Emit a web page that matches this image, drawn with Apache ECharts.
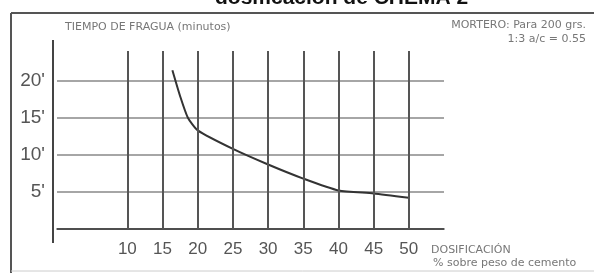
<!DOCTYPE html>
<html>
<head>
<meta charset="utf-8">
<script src="https://cdn.jsdelivr.net/npm/echarts@6/dist/echarts.min.js"></script>
<style>
  html, body { margin: 0; padding: 0; background: #fff; }
  #chart { width: 594px; height: 273px; }
</style>
</head>
<body>
<div id="chart"></div>
<script>
// dosificación (% sobre peso de cemento) vs tiempo de fragua (minutos)
const dosis = [16.4, 17.5, 18.6, 20, 25, 30, 35, 40, 45, 50];
const fragua = [21.4, 17.9, 15.0, 13.3, 10.8, 8.7, 6.8, 5.2, 4.8, 4.2];

const xTicks = [10, 15, 20, 25, 30, 35, 40, 45, 50];
const yTicks = [5, 10, 15, 20];
const yTickLabels = ["5'", "10'", "15'", "20'"];

const FONT = 'Liberation Sans';
const NOTE = '11px DejaVu Sans';

const chart = echarts.init(document.getElementById('chart'));

chart.setOption({
    animation: false,
    backgroundColor: '#fff',
    grid: { left: 57, right: 150, top: 51, bottom: 44 },
    xAxis: {
        type: 'value',
        min: 0,
        max: 55,
        interval: 5,
        axisLine: { show: true, lineStyle: { color: '#333', width: 1.5 } },
        axisTick: { show: false },
        splitLine: { show: false },
        axisLabel: {
            margin: 12,
            color: '#555',
            fontFamily: FONT,
            fontSize: 17,
            formatter: function (v) { return xTicks.indexOf(v) >= 0 ? String(v) : ''; }
        }
    },
    yAxis: {
        type: 'value',
        min: 0,
        max: 24,
        interval: 5,
        axisLine: { show: false },
        axisTick: { show: false },
        splitLine: { show: true, showMaxLine: false, lineStyle: { color: '#888', width: 1.5 } },
        axisLabel: {
            margin: 12,
            color: '#555',
            fontFamily: FONT,
            fontSize: 19,
            formatter: function (v) {
                const i = yTicks.indexOf(v);
                return i >= 0 ? yTickLabels[i] : '';
            }
        }
    },
    series: [{
        type: 'line',
        data: dosis.map((d, i) => [d, fragua[i]]),
        smooth: 0.2,
        symbol: 'none',
        lineStyle: { color: '#333', width: 2 },
        markLine: {
            silent: true,
            symbol: 'none',
            label: { show: false },
            lineStyle: { color: '#555', width: 2, type: 'solid' },
            data: xTicks.map(v => ({ xAxis: v }))
        }
    }],
    graphic: [
        // marco
        { type: 'line', shape: { x1: 11, y1: 13, x2: 594, y2: 13 }, style: { stroke: '#555', lineWidth: 2 } },
        { type: 'line', shape: { x1: 11, y1: 13, x2: 11, y2: 273 }, style: { stroke: '#555', lineWidth: 2 } },
        { type: 'line', shape: { x1: 11, y1: 271, x2: 594, y2: 271 }, style: { stroke: '#ccc', lineWidth: 1 } },
        // eje vertical
        { type: 'line', shape: { x1: 53, y1: 40, x2: 53, y2: 243 }, style: { stroke: '#444', lineWidth: 2 } },
        // textos
        { type: 'text', left: 215, top: -12, style: { text: 'dosificación de CHEMA 2', fill: '#111', font: 'bold 21px ' + FONT } },
        { type: 'text', left: 65, top: 22, style: { text: 'TIEMPO DE FRAGUA (minutos)', fill: '#777', font: NOTE } },
        { type: 'text', right: 8, top: 20, style: { text: 'MORTERO: Para 200 grs.', fill: '#777', font: NOTE } },
        { type: 'text', right: 8, top: 34, style: { text: '1:3 a/c = 0.55', fill: '#777', font: NOTE } },
        { type: 'text', left: 431, top: 245, style: { text: 'DOSIFICACIÓN', fill: '#777', font: NOTE } },
        { type: 'text', left: 433, top: 258, style: { text: '% sobre peso de cemento', fill: '#777', font: NOTE } }
    ]
});
</script>
</body>
</html>
